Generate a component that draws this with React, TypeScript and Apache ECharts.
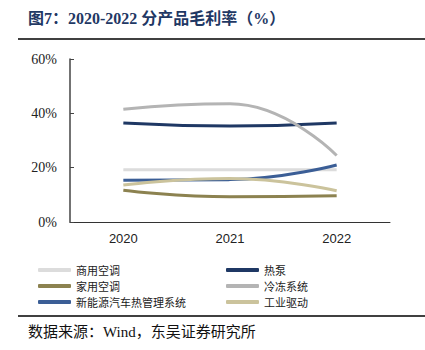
import React, { useEffect, useRef } from "react";
import * as echarts from "echarts";

const years = ["2020", "2021", "2022"];
const commercialAC = [19.2, 19.2, 19.2];
const heatPump = [36.4, 35.3, 36.4];
const householdAC = [11.7, 9.3, 9.7];
const refrigeration = [41.5, 43.5, 24.5];
const nevThermal = [15.4, 15.6, 21.0];
const industrialDrive = [13.6, 16.0, 11.5];

const seriesNames = ["商用空调", "热泵", "家用空调", "冷冻系统", "新能源汽车热管理系统", "工业驱动"];
const seriesData = [commercialAC, heatPump, householdAC, refrigeration, nevThermal, industrialDrive];
const seriesColors = ["#dcdcdc", "#1f3864", "#8c8250", "#b4b4b4", "#3b5e96", "#cbc39c"];
const yTicks = [0, 20, 40, 60];

export default function App() {
  const ref = useRef<HTMLDivElement>(null);
  useEffect(() => {
    const chart = echarts.init(ref.current!, null, { renderer: "svg" });
    const legendCommon = {
      orient: "vertical",
      icon: "roundRect",
      itemWidth: 33,
      itemHeight: 4,
      itemGap: 4,
      textStyle: { fontSize: 11, color: "#222", fontFamily: "Noto Sans CJK SC", lineHeight: 12 },
    };
    chart.setOption({
      animation: false,
      grid: { left: 70, right: 35, top: 59, bottom: 128 },
      legend: [
        { ...legendCommon, left: 33, top: 259, data: [seriesNames[0], seriesNames[2], seriesNames[4]] },
        { ...legendCommon, left: 221, top: 259, data: [seriesNames[1], seriesNames[3], seriesNames[5]] },
      ],
      xAxis: {
        type: "category",
        data: years,
        boundaryGap: true,
        axisLine: { lineStyle: { color: "#333", width: 1 } },
        axisTick: { inside: true, length: 4, lineStyle: { color: "#333" } },
        axisLabel: { color: "#222", fontSize: 13, fontFamily: "Liberation Sans", margin: 10 },
      },
      yAxis: {
        type: "value",
        min: 0,
        max: 60,
        interval: 20,
        axisLine: { show: true, lineStyle: { color: "#444", width: 1.5 } },
        axisTick: { show: true, inside: true, length: 4, lineStyle: { color: "#444" } },
        splitLine: { show: false },
        axisLabel: {
          color: "#222",
          fontSize: 14,
          fontFamily: "Liberation Serif",
          margin: 13,
          formatter: (v: number) => (yTicks.includes(v) ? v + "%" : ""),
        },
      },
      series: seriesNames.map((n, i) => ({
        name: n,
        type: "line",
        data: seriesData[i],
        smooth: 0.5,
        showSymbol: false,
        symbol: "none",
        color: seriesColors[i],
        lineStyle: { width: 3, color: seriesColors[i] },
      })),
      graphic: [
        {
          type: "text",
          left: 28,
          top: 10,
          style: {
            text: "图7：2020-2022 分产品毛利率（%）",
            fontSize: 16,
            fontWeight: "bold",
            fontFamily: "Liberation Serif, Noto Sans CJK SC",
            fill: "#1f3864",
          },
        },
        { type: "line", shape: { x1: 18, y1: 39, x2: 425, y2: 39 }, style: { stroke: "#000", lineWidth: 1.5 } },
        { type: "line", shape: { x1: 18, y1: 316, x2: 425, y2: 316 }, style: { stroke: "#000", lineWidth: 1.5 } },
        {
          type: "text",
          left: 28,
          top: 324,
          style: {
            text: "数据来源：Wind，东吴证券研究所",
            fontSize: 15,
            fontFamily: "Liberation Serif, Noto Sans CJK SC",
            fill: "#111",
          },
        },
      ],
    });
    return () => chart.dispose();
  }, []);
  return <div ref={ref} style={{ width: 425, height: 350, position: "absolute", left: 0, top: 0 }} />;
}
